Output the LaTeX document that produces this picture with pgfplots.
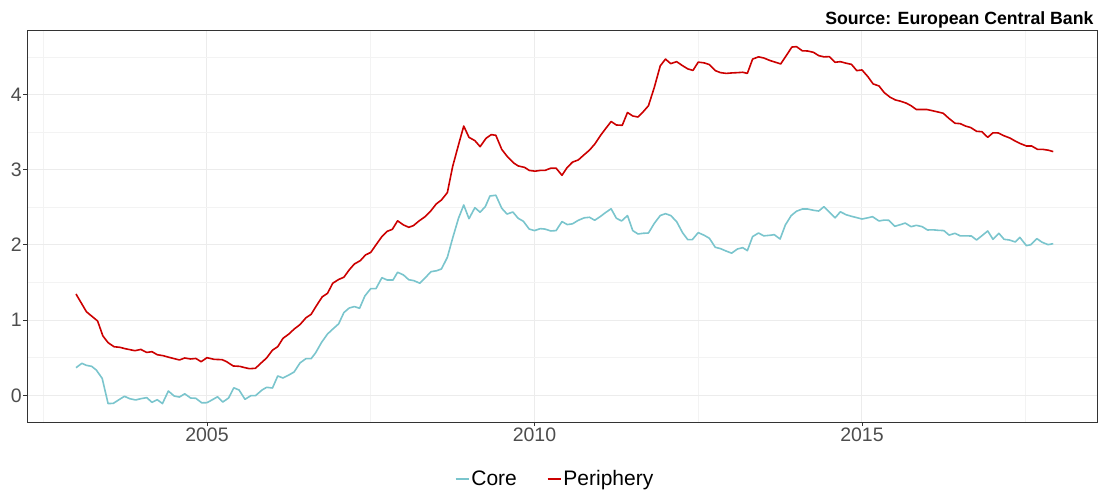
\documentclass[border=0pt]{standalone}
\usepackage{fontspec}
\setmainfont{Liberation Sans}
\usepackage{pgfplots}
\pgfplotsset{compat=1.18}
\definecolor{corec}{RGB}{122,197,205}
\definecolor{perc}{RGB}{204,0,0}
\definecolor{gmaj}{RGB}{236,236,236}
\definecolor{gmin}{RGB}{243,243,243}
\definecolor{g30}{RGB}{77,77,77}
\definecolor{g20}{RGB}{51,51,51}
\begin{document}
\begin{tikzpicture}
\path[use as bounding box] (-27pt,-71pt) rectangle (1075pt,422pt);
\begin{axis}[
 scale only axis, width=1070pt, height=392pt,
 xmin=2002.252, xmax=2018.588, ymin=-0.355, ymax=4.857,
 xtick={2005,2010,2015}, minor xtick={2002.5,2007.5,2012.5,2017.5},
 ytick={0,1,2,3,4}, minor ytick={0.5,1.5,2.5,3.5,4.5},
 grid=both, major grid style={gmaj, line width=1pt}, minor grid style={gmin, line width=0.6pt},
 tick align=outside, major tick length=4pt, minor tick length=0pt,
 xtick pos=left, ytick pos=left,
 tick style={g20, line width=0.8pt},
 axis line style={g20, line width=0.8pt},
 ticklabel style={font=\fontsize{19.5}{20}\selectfont, text=g30},
 /pgf/number format/assume math mode=true,
 /pgf/number format/1000 sep={},
 xticklabel style={inner sep=2pt},
 yticklabel style={inner sep=1pt},
 legend columns=2,
 legend style={draw=none, fill=none, at={(0.4935,-0.1454)}, anchor=center,
   font=\fontsize{21}{22}\selectfont,
   /tikz/every even column/.append style={column sep=28pt}},
 legend image code/.code={\draw[#1] (0pt,0pt) -- (13pt,0pt);},
]
\addplot[corec, line width=1.6pt, line join=round] coordinates {
(2003.00,0.367)(2003.09,0.425)(2003.16,0.398)(2003.24,0.385)(2003.31,0.336)(2003.40,0.225)
(2003.49,-0.11)(2003.57,-0.107)(2003.65,-0.062)(2003.74,-0.013)(2003.82,-0.045)(2003.91,-0.062)
(2003.99,-0.045)(2004.08,-0.031)(2004.16,-0.093)(2004.24,-0.058)(2004.32,-0.11)(2004.41,0.057)
(2004.50,-0.01)(2004.58,-0.023)(2004.66,0.02)(2004.75,-0.036)(2004.83,-0.04)(2004.92,-0.10)
(2005.00,-0.098)(2005.08,-0.06)(2005.16,-0.02)(2005.24,-0.09)(2005.33,-0.036)(2005.41,0.10)
(2005.49,0.07)(2005.58,-0.053)(2005.67,-0.005)(2005.74,-0.005)(2005.84,0.07)(2005.91,0.106)
(2006.00,0.097)(2006.08,0.257)(2006.16,0.23)(2006.25,0.27)(2006.33,0.31)(2006.42,0.43)
(2006.51,0.487)(2006.59,0.487)(2006.66,0.567)(2006.75,0.705)(2006.84,0.815)(2006.92,0.88)
(2007.01,0.95)(2007.09,1.10)(2007.17,1.16)(2007.25,1.18)(2007.33,1.157)(2007.41,1.32)
(2007.50,1.418)(2007.58,1.418)(2007.67,1.564)(2007.75,1.533)(2007.84,1.533)(2007.91,1.636)
(2008.00,1.60)(2008.08,1.537)(2008.16,1.524)(2008.25,1.49)(2008.34,1.57)(2008.42,1.644)
(2008.51,1.657)(2008.58,1.68)(2008.67,1.835)(2008.75,2.088)(2008.84,2.354)(2008.92,2.53)
(2009.00,2.348)(2009.09,2.495)(2009.17,2.434)(2009.25,2.51)(2009.32,2.65)(2009.41,2.66)
(2009.50,2.487)(2009.58,2.41)(2009.67,2.437)(2009.75,2.354)(2009.83,2.314)(2009.92,2.21)
(2010.00,2.19)(2010.09,2.216)(2010.16,2.21)(2010.25,2.185)(2010.33,2.19)(2010.42,2.31)
(2010.50,2.27)(2010.58,2.28)(2010.67,2.327)(2010.76,2.36)(2010.84,2.367)(2010.92,2.327)
(2011.01,2.38)(2011.09,2.433)(2011.17,2.48)(2011.25,2.354)(2011.33,2.318)(2011.42,2.39)
(2011.50,2.19)(2011.58,2.145)(2011.66,2.154)(2011.74,2.158)(2011.83,2.287)(2011.92,2.39)
(2012.00,2.415)(2012.08,2.39)(2012.17,2.31)(2012.26,2.163)(2012.34,2.07)(2012.41,2.07)
(2012.50,2.163)(2012.59,2.128)(2012.67,2.088)(2012.76,1.968)(2012.84,1.95)(2012.92,1.92)
(2013.01,1.89)(2013.10,1.946)(2013.18,1.963)(2013.25,1.923)(2013.33,2.11)(2013.42,2.158)
(2013.50,2.12)(2013.60,2.128)(2013.66,2.136)(2013.75,2.078)(2013.83,2.265)(2013.92,2.39)
(2014.00,2.447)(2014.09,2.477)(2014.17,2.477)(2014.26,2.46)(2014.34,2.45)(2014.42,2.508)
(2014.50,2.437)(2014.59,2.36)(2014.67,2.44)(2014.76,2.40)(2014.84,2.38)(2014.93,2.36)
(2015.00,2.344)(2015.09,2.36)(2015.16,2.375)(2015.26,2.318)(2015.34,2.33)(2015.41,2.327)
(2015.50,2.247)(2015.59,2.27)(2015.66,2.29)(2015.75,2.242)(2015.83,2.26)(2015.92,2.242)
(2016.00,2.198)(2016.09,2.20)(2016.16,2.194)(2016.25,2.19)(2016.33,2.13)(2016.42,2.154)
(2016.50,2.12)(2016.58,2.12)(2016.67,2.118)(2016.75,2.065)(2016.84,2.128)(2016.92,2.185)
(2017.00,2.074)(2017.09,2.154)(2017.17,2.074)(2017.25,2.065)(2017.34,2.039)(2017.41,2.10)
(2017.51,1.99)(2017.58,2.003)(2017.67,2.083)(2017.75,2.035)(2017.84,2.003)(2017.92,2.016)
};
\addlegendentry{Core}
\addplot[perc, line width=1.6pt, line join=round] coordinates {
(2003.00,1.347)(2003.16,1.11)(2003.33,0.988)(2003.41,0.79)(2003.49,0.70)(2003.58,0.646)
(2003.67,0.638)(2003.75,0.62)(2003.90,0.593)(2003.99,0.61)(2004.08,0.57)(2004.16,0.58)
(2004.24,0.54)(2004.33,0.527)(2004.42,0.505)(2004.58,0.47)(2004.66,0.496)(2004.75,0.483)
(2004.83,0.49)(2004.91,0.447)(2005.00,0.50)(2005.11,0.478)(2005.23,0.474)(2005.30,0.447)
(2005.40,0.39)(2005.50,0.385)(2005.58,0.367)(2005.65,0.354)(2005.74,0.359)(2005.82,0.425)
(2005.91,0.496)(2006.00,0.60)(2006.08,0.646)(2006.16,0.757)(2006.25,0.815)(2006.33,0.88)
(2006.42,0.94)(2006.51,1.03)(2006.59,1.077)(2006.67,1.19)(2006.76,1.31)(2006.84,1.356)
(2006.92,1.49)(2007.01,1.54)(2007.09,1.57)(2007.17,1.666)(2007.25,1.746)(2007.34,1.79)
(2007.42,1.866)(2007.50,1.90)(2007.58,2.0)(2007.67,2.11)(2007.75,2.18)(2007.83,2.207)
(2007.91,2.32)(2008.00,2.265)(2008.08,2.234)(2008.15,2.255)(2008.24,2.32)(2008.33,2.375)
(2008.42,2.455)(2008.50,2.544)(2008.58,2.597)(2008.67,2.695)(2008.75,3.04)(2008.84,3.33)
(2008.92,3.58)(2009.00,3.43)(2009.09,3.386)(2009.17,3.306)(2009.26,3.417)(2009.34,3.466)
(2009.41,3.457)(2009.50,3.27)(2009.58,3.18)(2009.68,3.09)(2009.75,3.05)(2009.85,3.03)
(2009.92,2.99)(2010.01,2.98)(2010.09,2.99)(2010.16,2.99)(2010.25,3.02)(2010.33,3.02)
(2010.42,2.925)(2010.50,3.03)(2010.58,3.10)(2010.67,3.13)(2010.76,3.20)(2010.84,3.26)
(2010.92,3.34)(2011.01,3.457)(2011.09,3.55)(2011.17,3.64)(2011.25,3.594)(2011.34,3.59)
(2011.42,3.76)(2011.50,3.714)(2011.58,3.70)(2011.66,3.77)(2011.74,3.85)(2011.83,4.096)
(2011.92,4.38)(2012.00,4.47)(2012.08,4.41)(2012.17,4.436)(2012.26,4.383)(2012.34,4.34)
(2012.42,4.32)(2012.50,4.43)(2012.59,4.42)(2012.67,4.397)(2012.76,4.317)(2012.84,4.29)
(2012.93,4.28)(2013.01,4.286)(2013.10,4.29)(2013.18,4.295)(2013.25,4.28)(2013.33,4.47)
(2013.42,4.50)(2013.50,4.485)(2013.60,4.45)(2013.68,4.428)(2013.76,4.406)(2013.85,4.525)
(2013.93,4.63)(2014.00,4.636)(2014.09,4.58)(2014.17,4.578)(2014.26,4.56)(2014.34,4.516)
(2014.42,4.50)(2014.50,4.503)(2014.59,4.428)(2014.67,4.436)(2014.76,4.415)(2014.84,4.40)
(2014.92,4.317)(2015.00,4.326)(2015.09,4.237)(2015.17,4.14)(2015.26,4.113)(2015.34,4.024)
(2015.43,3.963)(2015.51,3.927)(2015.59,3.91)(2015.68,3.883)(2015.75,3.85)(2015.83,3.80)
(2015.99,3.80)(2016.07,3.785)(2016.16,3.767)(2016.24,3.75)(2016.33,3.68)(2016.42,3.617)
(2016.50,3.612)(2016.58,3.58)(2016.66,3.56)(2016.75,3.51)(2016.83,3.505)(2016.92,3.43)
(2017.00,3.49)(2017.08,3.488)(2017.17,3.45)(2017.26,3.42)(2017.34,3.38)(2017.42,3.346)
(2017.51,3.315)(2017.59,3.315)(2017.68,3.27)(2017.76,3.27)(2017.85,3.258)(2017.92,3.24)
};
\addlegendentry{Periphery}
\end{axis}
\node[anchor=base east, font=\bfseries\fontsize{17.7}{18}\selectfont] at (1070pt,397.5pt) {Source: European Central Bank};
\end{tikzpicture}
\end{document}
